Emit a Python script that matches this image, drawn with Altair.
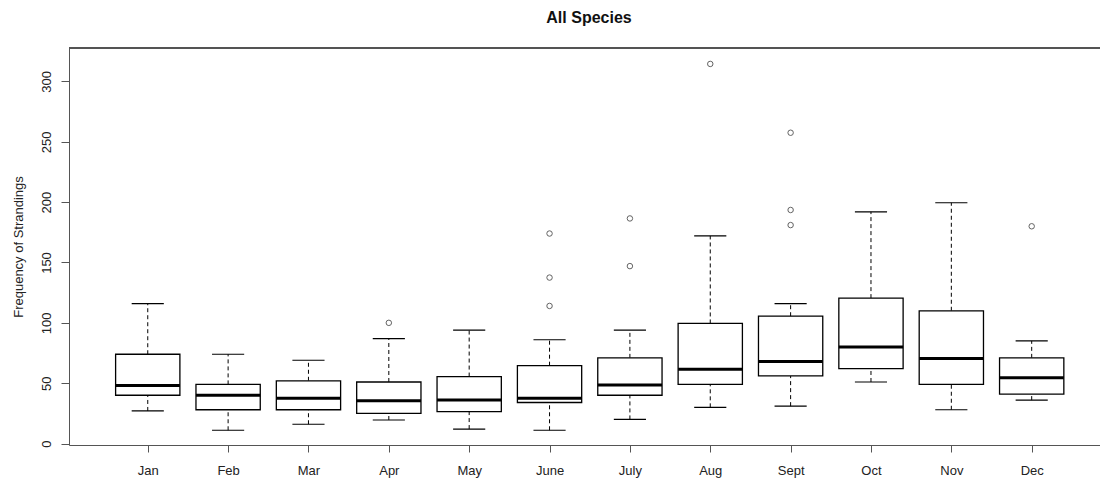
import altair as alt
import pandas as pd

months = ["Jan", "Feb", "Mar", "Apr", "May", "June", "July", "Aug", "Sept", "Oct", "Nov", "Dec"]
lower_whisker = [27, 11, 16, 19.5, 12, 11, 20, 30, 31, 51, 28, 36]
q1 = [40, 28, 28, 25, 26.5, 34, 40, 49, 56, 62, 49, 41]
median = [48, 40, 37.5, 35.5, 36, 37.5, 48.5, 61.5, 68, 80, 70.5, 54.5]
q3 = [74, 49, 52, 51, 55.5, 64.5, 71, 99.5, 105.5, 120.5, 110, 71]
upper_whisker = [116, 74, 69, 87, 94, 86, 94, 172, 116, 192, 199.5, 85]

outlier_month = ["Apr", "June", "June", "June", "July", "July", "Aug", "Sept", "Sept", "Sept", "Dec"]
outlier_value = [100, 174, 137.5, 114, 186.5, 147, 314.5, 257.5, 193.5, 181, 180]

y_ticks = [0, 50, 100, 150, 200, 250, 300]

stats = pd.DataFrame({
    "month": months,
    "pos": list(range(1, len(months) + 1)),
    "lo": lower_whisker,
    "q1": q1,
    "med": median,
    "q3": q3,
    "hi": upper_whisker,
})
outs = pd.DataFrame({
    "month": outlier_month,
    "pos": [months.index(m) + 1 for m in outlier_month],
    "value": outlier_value,
})

W, H = 1031, 397
FONT = "Liberation Sans"
AX = "#555555"

xscale = alt.Scale(domain=[0.02, 12.85], nice=False, zero=False)
yscale = alt.Scale(domain=[-1.2, 327.7], nice=False, zero=False)

label_expr = "[" + ",".join("'" + m + "'" for m in months) + "][datum.value - 1]"
xaxis = alt.Axis(values=list(range(1, 13)), labelExpr=label_expr, title=None, grid=False,
                 tickSize=7, labelPadding=12, labelFontSize=13, labelFont=FONT,
                 labelColor="#222222", domainColor=AX, tickColor=AX, labelFlush=False)
yaxis = alt.Axis(values=y_ticks, title="Frequency of Strandings", grid=False, tickSize=8,
                 labelPadding=8, labelFontSize=13, labelFont=FONT, labelColor="#222222",
                 labelAngle=270, labelAlign="center", labelBaseline="bottom",
                 domainColor=AX, tickColor=AX, titleFont=FONT, titleFontSize=13,
                 titleFontWeight="normal", titleColor="#222222", titleAngle=270,
                 titleX=-51, titleY=H / 2, titleBaseline="middle", titleAlign="center")

def X(f):
    return alt.X(f, type="quantitative", scale=xscale, axis=xaxis)

def Y(f):
    return alt.Y(f, type="quantitative", scale=yscale, axis=yaxis)

base = alt.Chart(stats).transform_calculate(
    xl="datum.pos - 0.4", xr="datum.pos + 0.4",
    cl="datum.pos - 0.2", cr="datum.pos + 0.2",
)

whisk_hi = base.mark_rule(color="black", strokeWidth=1, strokeDash=[4, 3]).encode(
    x=X("pos"), y=Y("q3"), y2="hi")
whisk_lo = base.mark_rule(color="black", strokeWidth=1, strokeDash=[4, 3]).encode(
    x=X("pos"), y=Y("lo"), y2="q1")
cap_hi = base.mark_rule(color="black", strokeWidth=1.2).encode(
    x=X("cl"), x2="cr", y=Y("hi"))
cap_lo = base.mark_rule(color="black", strokeWidth=1.2).encode(
    x=X("cl"), x2="cr", y=Y("lo"))
box = base.mark_bar(fill="white", stroke="black", strokeWidth=1.3).encode(
    x=X("xl"), x2="xr", y=Y("q1"), y2="q3")
med = base.mark_rule(color="black", strokeWidth=3).encode(
    x=X("xl"), x2="xr", y=Y("med"))
pts = alt.Chart(outs).mark_point(shape="circle", filled=False, size=30, color="#222222",
                                 strokeWidth=1).encode(x=X("pos"), y=Y("value"))
top = alt.Chart(stats).mark_rule(color=AX, strokeWidth=1.2).encode(
    x=alt.value(0), x2=alt.value(W), y=alt.value(0))

chart = alt.layer(whisk_hi, whisk_lo, cap_hi, cap_lo, box, med, pts, top).properties(
    width=W, height=H,
    title=alt.TitleParams("All Species", fontSize=16, fontWeight="bold", font=FONT,
                          color="#111111", anchor="middle", dx=4.5, offset=8,
                          baseline="alphabetic"),
    autosize=alt.AutoSizeParams(type="none"),
    padding={"left": 69, "top": 48, "right": 0, "bottom": 34},
).configure_view(stroke=None).configure(background="white")

chart.save("out.html", embed_options={"renderer": "svg", "actions": False})
